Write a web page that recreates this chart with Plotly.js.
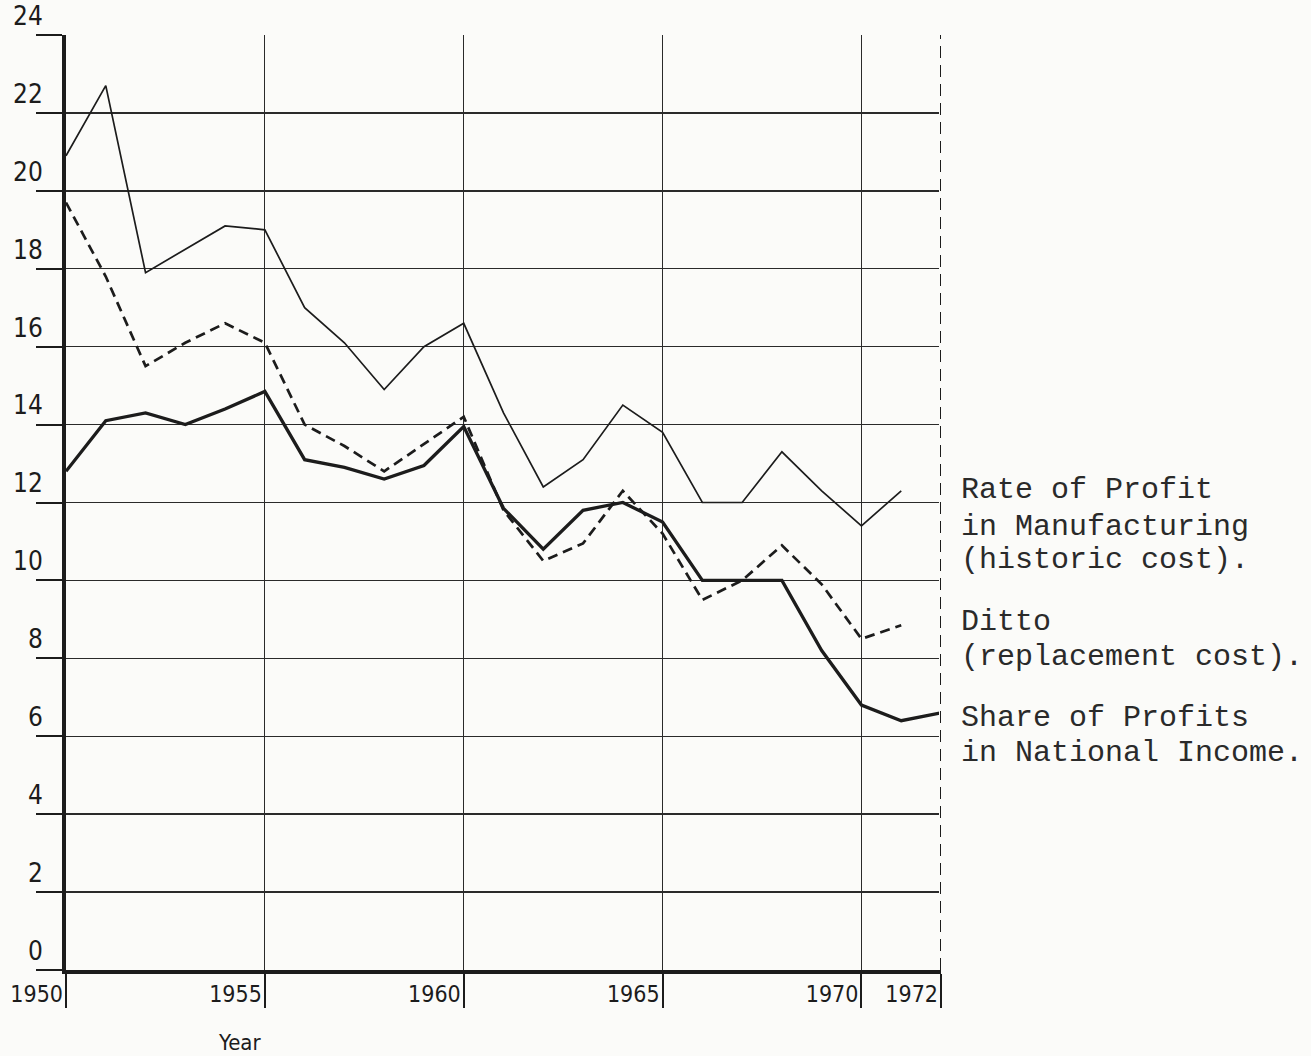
<!DOCTYPE html>
<html>
<head>
<meta charset="utf-8">
<script src="https://cdn.plot.ly/plotly-3.0.1.min.js"></script>
<style>
  html, body { margin: 0; padding: 0; background: #fbfbf9; }
  #chart { width: 1311px; height: 1056px; }
</style>
</head>
<body>
<div id="chart"></div>
<script>
// ---- data ----
const yearsShare = [1950,1951,1952,1953,1954,1955,1956,1957,1958,1959,1960,1961,1962,1963,1964,1965,1966,1967,1968,1969,1970,1971,1972];
const yearsManuf = [1950,1951,1952,1953,1954,1955,1956,1957,1958,1959,1960,1961,1962,1963,1964,1965,1966,1967,1968,1969,1970,1971];
const historicCost = [20.9,22.7,17.9,18.5,19.1,19.0,17.0,16.1,14.9,16.0,16.6,14.3,12.4,13.1,14.5,13.8,12.0,12.0,13.3,12.3,11.4,12.3];
const replacementCost = [19.7,17.8,15.5,16.1,16.6,16.1,14.0,13.45,12.8,13.5,14.2,11.8,10.5,10.95,12.3,11.2,9.5,10.0,10.9,9.9,8.5,8.85];
const shareOfProfits = [12.8,14.1,14.3,14.0,14.4,14.85,13.1,12.9,12.6,12.95,13.95,11.85,10.8,11.8,12.0,11.5,10.0,10.0,10.0,8.2,6.8,6.4,6.6];

const xTicks = [1950,1955,1960,1965,1970,1972];
const xTickText = ['1950','1955','1960','1965','1970','1972'];
const yTicks = [0,2,4,6,8,10,12,14,16,18,20,22,24];

const legendLines = [
  ['Rate of Profit', 12.33],
  ['in Manufacturing', 11.36],
  ['(historic cost).', 10.53],
  ['Ditto', 8.94],
  ['(replacement cost).', 8.04],
  ['Share of Profits', 6.47],
  ['in National Income.', 5.58]
];

const ink = '#1c1c1c';

const traces = [
  { x: yearsManuf, y: historicCost, mode: 'lines', name: 'historic',
    line: { color: ink, width: 1.7 } },
  { x: yearsManuf, y: replacementCost, mode: 'lines', name: 'replacement',
    line: { color: ink, width: 2.7, dash: '10px,6px' } },
  { x: yearsShare, y: shareOfProfits, mode: 'lines', name: 'share',
    line: { color: ink, width: 3.3 } }
];

const annotations = legendLines.map(([t, yv]) => ({
  text: t, xref: 'paper', x: 1.0205, xanchor: 'left',
  yref: 'y', y: yv, yanchor: 'middle', showarrow: false,
  font: { family: 'Liberation Mono, DejaVu Sans Mono, monospace', size: 30, color: '#2a2a2a' }
}));
annotations.push({
  text: 'Year', xref: 'x', x: 1954.37, yref: 'paper', y: -0.0775,
  xanchor: 'center', yanchor: 'middle', showarrow: false,
  font: { family: 'DejaVu Sans Condensed, Liberation Sans Narrow, sans-serif', size: 22, color: ink }
});

const layout = {
  width: 1311, height: 1056,
  paper_bgcolor: '#fbfbf9', plot_bgcolor: '#fbfbf9',
  margin: { l: 66, r: 370, t: 35, b: 86 },
  showlegend: false,
  font: { family: 'DejaVu Sans Condensed, Liberation Sans Narrow, sans-serif', color: ink, size: 22 },
  xaxis: {
    range: [1950, 1972], tickvals: xTicks, ticktext: xTickText,
    showgrid: true, gridcolor: '#2a2a2a', gridwidth: 1.2,
    showline: true, linecolor: ink, linewidth: 4,
    ticks: 'outside', ticklen: 34, tickwidth: 2, tickcolor: ink,
    ticklabelposition: 'outside left',
    tickfont: { size: 23 }, zeroline: false, fixedrange: true
  },
  yaxis: {
    range: [0, 24], tickvals: yTicks,
    showgrid: true, gridcolor: '#2a2a2a', gridwidth: 1.4,
    showline: true, linecolor: ink, linewidth: 4,
    ticks: 'outside', ticklen: 26, tickwidth: 2, tickcolor: ink,
    ticklabelposition: 'outside top', ticklabelstandoff: 14,
    tickfont: { size: 26 }, zeroline: false, fixedrange: true
  },
  shapes: [
    { type: 'line', xref: 'x', yref: 'y', x0: 1972, x1: 1972, y0: 0, y1: 24,
      line: { color: '#fbfbf9', width: 4 }, layer: 'above' },
    { type: 'line', xref: 'x', yref: 'y', x0: 1972, x1: 1972, y0: 0, y1: 24,
      line: { color: ink, width: 2, dash: '12px,7px' }, layer: 'above' }
  ],
  annotations: annotations
};

Plotly.newPlot('chart', traces, layout, { displayModeBar: false, staticPlot: true });
</script>
</body>
</html>
